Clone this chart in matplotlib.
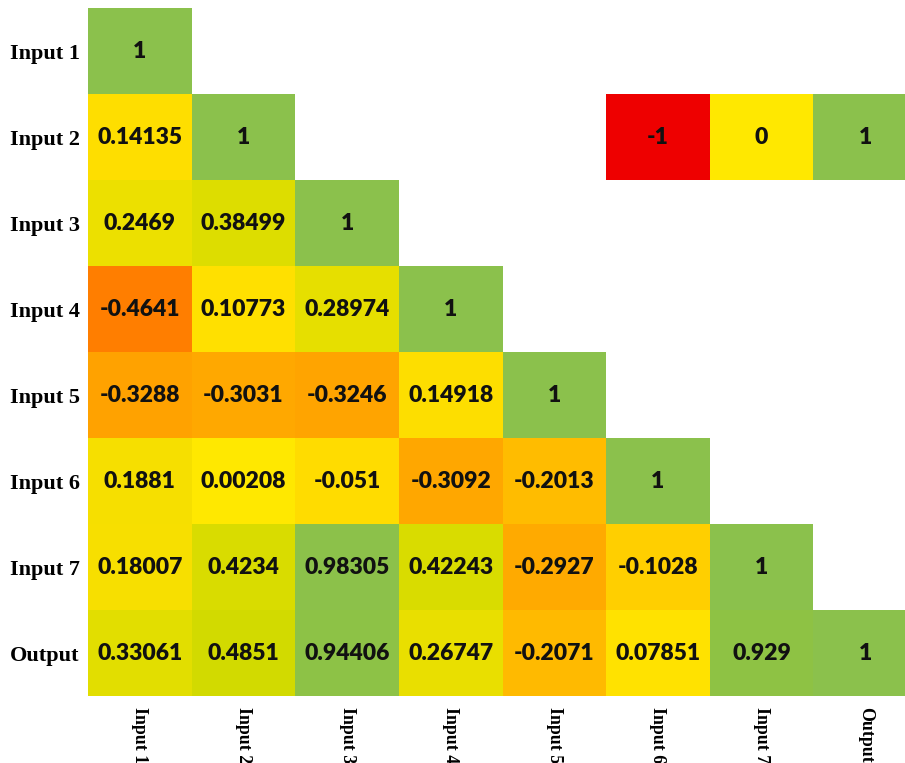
import numpy as np
import matplotlib.pyplot as plt
from matplotlib.colors import LinearSegmentedColormap, Normalize

labels = ['Input 1', 'Input 2', 'Input 3', 'Input 4', 'Input 5', 'Input 6', 'Input 7', 'Output']

# lower triangle of the correlation matrix, row by row
corr_rows = [
    [1],
    [0.14135, 1],
    [0.2469, 0.38499, 1],
    [-0.4641, 0.10773, 0.28974, 1],
    [-0.3288, -0.3031, -0.3246, 0.14918, 1],
    [0.1881, 0.00208, -0.051, -0.3092, -0.2013, 1],
    [0.18007, 0.4234, 0.98305, 0.42243, -0.2927, -0.1028, 1],
    [0.33061, 0.4851, 0.94406, 0.26747, -0.2071, 0.07851, 0.929, 1],
]

# colour key shown in the empty upper triangle
key_values = [-1, 0, 1]
key_row = 1
key_cols = [5, 6, 7]

n = len(labels)
mat = np.full((n, n), np.nan)
for i, row in enumerate(corr_rows):
    mat[i, :len(row)] = row

# red -> yellow -> green scale, stops given on the -1..1 range
stops = [
    (-1.0, '#EE0000'), (-0.46, '#FF8000'), (-0.33, '#FFA300'), (-0.2, '#FFBC00'),
    (-0.1, '#FFD000'), (0.0, '#FFE800'), (0.14, '#FFDE00'), (0.25, '#EBE000'),
    (0.49, '#D2DA00'), (0.93, '#8EC244'), (1.0, '#8BC14C'),
]
cmap = LinearSegmentedColormap.from_list('ryg', [((v + 1) / 2, c) for v, c in stops])
norm = Normalize(vmin=-1, vmax=1)

fig = plt.figure(figsize=(9.05, 7.63), dpi=100)
# the last column runs slightly past the right edge of the canvas
ax = fig.add_axes([88 / 905, 67 / 763, 829 / 905, 688 / 763])

edges = np.arange(n + 1) - 0.5
ax.pcolormesh(edges, edges, np.ma.masked_invalid(mat), cmap=cmap, norm=norm)

kx = np.array(key_cols + [key_cols[-1] + 1]) - 0.5
ky = np.array([key_row - 0.5, key_row + 0.5])
ax.pcolormesh(kx, ky, np.array([key_values]), cmap=cmap, norm=norm)

num_font = dict(family='Lato', fontweight='heavy', fontsize=16.5, color='#111111')
for i, row in enumerate(corr_rows):
    for j, v in enumerate(row):
        ax.text(j, i, f'{v:g}', ha='center', va='center', **num_font)
for c, v in zip(key_cols, key_values):
    ax.text(c, key_row, f'{v:g}', ha='center', va='center', **num_font)

ax.set_xlim(-0.5, n - 0.5)
ax.set_ylim(n - 0.5, -0.5)
ax.set_xticks(range(n))
ax.set_yticks(range(n))
ax.set_xticklabels(labels, rotation=-90, va='top', ha='center')
ax.set_yticklabels(labels)
for t in ax.get_yticklabels():
    t.set_fontfamily('Liberation Serif')
    t.set_fontweight('bold')
    t.set_fontsize(16)
for t in ax.get_xticklabels():
    t.set_fontfamily('Liberation Serif')
    t.set_fontweight('bold')
    t.set_fontsize(12.8)
ax.tick_params(axis='y', length=0, pad=6)
ax.tick_params(axis='x', length=0, pad=8)
for s in ax.spines.values():
    s.set_visible(False)

fig.savefig('out.png', dpi=100)
